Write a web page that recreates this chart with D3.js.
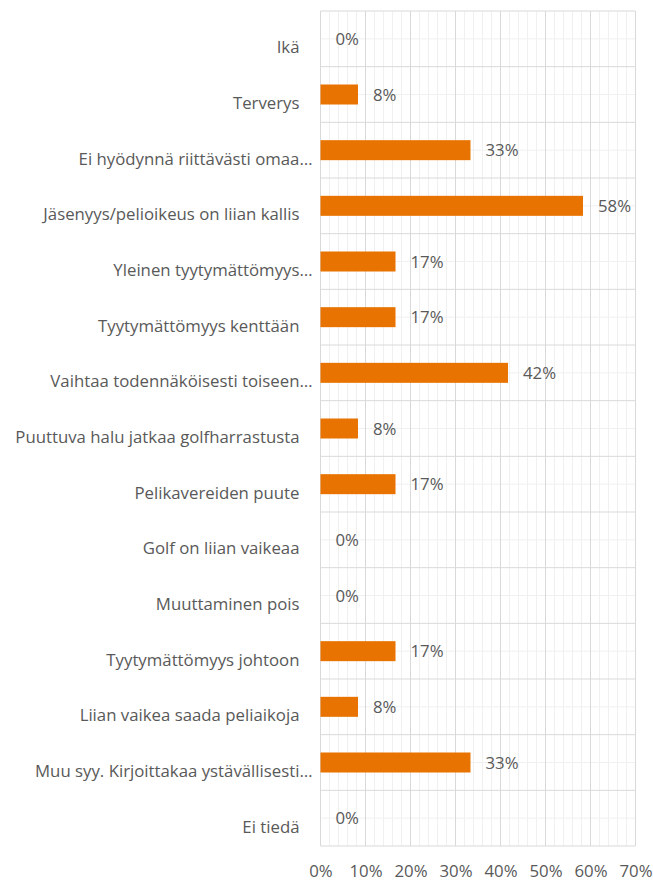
<!DOCTYPE html>
<html>
<head>
<meta charset="utf-8">
<script src="https://cdn.jsdelivr.net/npm/d3@7"></script>
<style>
  body { margin: 0; background: #fff; }
  text { font-family: "Open Sans", sans-serif; fill: #595959; }
</style>
</head>
<body>
<div id="chart"></div>
<script>
// kategoriat ja osuudet (%), n = 12 vastausta
const categories = [
  "Ikä",
  "Terverys",
  "Ei hyödynnä riittävästi omaa…",
  "Jäsenyys/pelioikeus on liian kallis",
  "Yleinen tyytymättömyys…",
  "Tyytymättömyys kenttään",
  "Vaihtaa todennäköisesti toiseen…",
  "Puuttuva halu jatkaa golfharrastusta",
  "Pelikavereiden puute",
  "Golf on liian vaikeaa",
  "Muuttaminen pois",
  "Tyytymättömyys johtoon",
  "Liian vaikea saada peliaikoja",
  "Muu syy. Kirjoittakaa ystävällisesti…",
  "Ei tiedä"
];
const values = [0, 8.33, 33.33, 58.33, 16.67, 16.67, 41.67, 8.33, 16.67, 0, 0, 16.67, 8.33, 33.33, 0];
const xTicks = [0, 10, 20, 30, 40, 50, 60, 70];

const data = categories.map((c, i) => ({ cat: c, val: values[i] }));

const W = 653, H = 882;
const margin = { top: 11, right: 18, bottom: 36, left: 320.5 };
const width = W - margin.left - margin.right,
      height = H - margin.top - margin.bottom;
const fontSize = "16.8px";

const svg = d3.select("#chart").append("svg")
  .attr("width", W).attr("height", H)
  .append("g")
  .attr("transform", `translate(${margin.left},${margin.top})`);

const x = d3.scaleLinear().domain([0, 70]).range([0, 315]);
const y = d3.scaleBand().domain(categories).range([0, height]).paddingInner(0).paddingOuter(0);

// pienet pystyviivat 2 %:n välein
svg.append("g").selectAll("line")
  .data(d3.range(0, 70.01, 2).filter(v => v % 10 !== 0))
  .enter().append("line")
  .attr("x1", d => x(d)).attr("x2", d => x(d))
  .attr("y1", 0).attr("y2", height)
  .attr("stroke", "#f0f0f0").attr("stroke-width", 1);

// pienet vaakaviivat kategorian keskellä
svg.append("g").selectAll("line")
  .data(categories)
  .enter().append("line")
  .attr("x1", 0).attr("x2", x(70))
  .attr("y1", d => y(d) + y.bandwidth() / 2).attr("y2", d => y(d) + y.bandwidth() / 2)
  .attr("stroke", "#f0f0f0").attr("stroke-width", 1);

// pääviivat
svg.append("g").selectAll("line")
  .data(xTicks)
  .enter().append("line")
  .attr("x1", d => x(d)).attr("x2", d => x(d))
  .attr("y1", 0).attr("y2", height)
  .attr("stroke", "#d9d9d9").attr("stroke-width", 1);

svg.append("g").selectAll("line")
  .data(categories.concat(["__end"]))
  .enter().append("line")
  .attr("x1", 0).attr("x2", x(70))
  .attr("y1", (d, i) => i * y.step()).attr("y2", (d, i) => i * y.step())
  .attr("stroke", "#d9d9d9").attr("stroke-width", 1);

// x-akseli
const gX = svg.append("g")
  .attr("transform", `translate(0,${height})`)
  .call(d3.axisBottom(x).tickValues(xTicks).tickFormat(d => d + "%").tickSize(0).tickPadding(19));
gX.select(".domain").remove();
gX.selectAll("text").style("font-size", fontSize).style("fill", "#595959");

// y-akseli (katkaistut nimet ulottuvat hieman pidemmälle)
const gY = svg.append("g")
  .call(d3.axisLeft(y).tickSize(0).tickPadding(21));
gY.select(".domain").remove();
gY.selectAll("text")
  .style("font-size", fontSize).style("fill", "#595959")
  .attr("y", 9)
  .attr("x", d => d.endsWith("…") ? -8 : -21);

// palkit
const barH = 20;
svg.selectAll("rect.bar")
  .data(data)
  .enter().append("rect")
  .attr("class", "bar")
  .attr("x", x(0))
  .attr("y", d => y(d.cat) + (y.bandwidth() - barH) / 2)
  .attr("width", d => x(d.val) - x(0))
  .attr("height", barH)
  .attr("fill", "#e97300");

// arvot
svg.selectAll("text.label")
  .data(data)
  .enter().append("text")
  .attr("class", "label")
  .attr("x", d => x(d.val) + 15)
  .attr("y", d => y(d.cat) + y.bandwidth() / 2)
  .attr("dy", "0.36em")
  .style("font-size", fontSize)
  .text(d => Math.round(d.val) + "%");
</script>
</body>
</html>
